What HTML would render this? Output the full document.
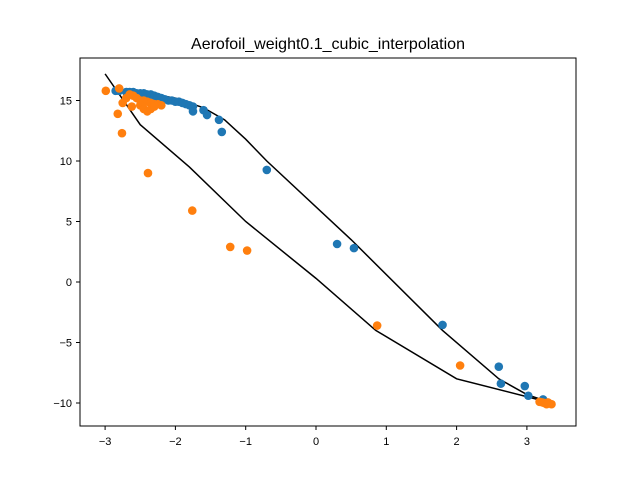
<!DOCTYPE html>
<html><head><meta charset="utf-8"><style>
body{margin:0;background:#fff;}
svg{display:block;font-family:"Liberation Sans","DejaVu Sans",sans-serif;}
</style></head><body>
<svg id="chart" width="640" height="478">
<rect x="0" y="0" width="640" height="478" fill="#fff"/>
<text x="328" y="49" font-size="16" text-anchor="middle">Aerofoil_weight0.1_cubic_interpolation</text>
<g id="lines"></g>
<g id="pts"></g>
<g id="axes"></g>
<rect x="80" y="58" width="496" height="368" fill="none" stroke="#000" stroke-width="1"/>
</svg>
<script>
const xTicks=[-3,-2,-1,0,1,2,3];
const yTicks=[-10,-5,0,5,10,15];
const blueX=[-2.85,-2.8,-2.7,-2.65,-2.6,-2.55,-2.5,-2.45,-2.4,-2.35,-2.3,-2.25,-2.2,-2.15,-2.1,-2.05,-2.0,-1.95,-1.9,-1.85,-1.8,-1.75,-1.75,-1.6,-1.55,-1.38,-1.34,-0.7,0.3,0.54,1.8,2.6,2.63,2.97,3.02,3.23];
const blueY=[15.8,15.8,15.7,15.7,15.7,15.6,15.6,15.6,15.5,15.5,15.4,15.3,15.2,15.1,15.0,15.0,14.9,14.9,14.8,14.7,14.6,14.5,14.1,14.2,13.8,13.4,12.4,9.26,3.14,2.8,-3.55,-7.0,-8.4,-8.6,-9.4,-9.7];
const orangeX=[-2.99,-2.8,-2.82,-2.76,-2.39,-1.76,-1.22,-0.98,0.87,2.05,-2.75,-2.7,-2.65,-2.6,-2.55,-2.5,-2.45,-2.4,-2.35,-2.3,-2.25,-2.2,-2.5,-2.45,-2.4,-2.35,-2.3,-2.62,3.18,3.22,3.25,3.3,3.35,3.28];
const orangeY=[15.8,16.0,13.9,12.3,9.0,5.9,2.9,2.6,-3.6,-6.9,14.8,15.2,15.5,15.4,15.2,15.0,15.0,14.9,14.8,14.7,14.7,14.6,14.6,14.3,14.1,14.3,14.5,14.5,-9.9,-9.95,-10.0,-9.95,-10.1,-10.1];
const upperX=[-2.9,-2.5,-2.0,-1.6,-1.3,-1.0,-0.7,0.5,1.8,2.6,3.0,3.35];
const upperY=[15.9,15.7,15.2,14.4,13.4,11.8,10.0,3.5,-4.0,-8.0,-9.3,-10.0];
const lowerX=[-3.0,-2.5,-1.8,-1.0,0.0,0.85,2.0,3.35];
const lowerY=[17.2,13.0,9.5,5.0,0.3,-4.0,-8.0,-10.0];
const sx=v=>316+v*70.3, sy=v=>282-v*12.1;
const NS="http://www.w3.org/2000/svg";
function mk(t,a,p){const e=document.createElementNS(NS,t);for(const k in a)e.setAttribute(k,a[k]);p.appendChild(e);return e;}
const ax=document.getElementById('axes');
xTicks.forEach(v=>{const x=sx(v);
 const l=mk('line',{x1:x,x2:x,y1:426,y2:430,stroke:'#000'},ax);
 
 
 const t=mk('text',{x:x,y:445,'font-size':11,'text-anchor':'middle'},ax);t.textContent=v<0?'\u2212'+(-v):v;
 
 });
yTicks.forEach(v=>{const y=sy(v);
 const l=mk('line',{x1:76,x2:80,y1:y,y2:y,stroke:'#000'},ax);
 
 
 const t=mk('text',{x:72,y:y+4,'font-size':11,'text-anchor':'end'},ax);t.textContent=v<0?'\u2212'+(-v):v;
 
 });
const pg=document.getElementById('pts');
blueX.forEach((v,i)=>{const c=mk('circle',{cx:sx(v),cy:sy(blueY[i]),r:4.3,fill:'#1f77b4'},pg);
 
 });
orangeX.forEach((v,i)=>{const c=mk('circle',{cx:sx(v),cy:sy(orangeY[i]),r:4.3,fill:'#ff7f0e'},pg);
 
 });
const lg=document.getElementById('lines');
[[upperX,upperY,'upper-curve'],[lowerX,lowerY,'lower-curve']].forEach(([X,Y,n])=>{
 const p=mk('polyline',{points:X.map((v,i)=>sx(v)+','+sy(Y[i])).join(' '),fill:'none',stroke:'#000','stroke-width':1.5},lg);
 
 });
</script>
</body></html>
